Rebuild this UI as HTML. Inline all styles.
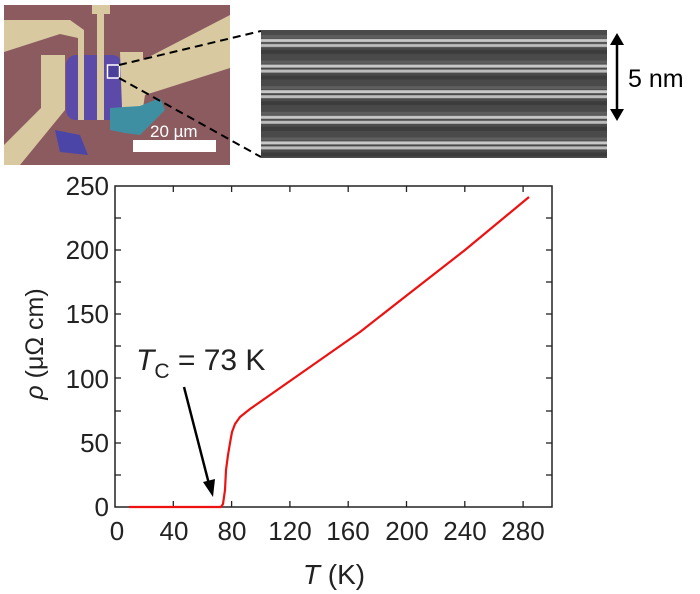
<!DOCTYPE html>
<html><head><meta charset="utf-8"><style>
html,body{margin:0;padding:0;background:#fff;}
svg{display:block;font-family:"Liberation Sans",Arial,sans-serif;}
</style></head><body>
<svg width="700" height="594" viewBox="0 0 700 594" xmlns="http://www.w3.org/2000/svg">
<defs>
<pattern id="tem" x="261" y="30" width="346" height="25.6" patternUnits="userSpaceOnUse">
<rect width="346" height="25.6" fill="#4a4a4a"/>
<rect y="9" width="346" height="3" fill="#c8c8c8"/>
<rect y="14" width="346" height="3" fill="#bdbdbd"/>
<rect y="5" width="346" height="3" fill="#5e5e5e"/>
<rect y="20" width="346" height="4" fill="#3c3c3c"/>
</pattern>
</defs>
<rect x="4" y="5" width="226" height="160" fill="#8c5b60"/>
<polygon points="4,20 70,20 84,30 84,120 78,120 78,38 60,34 4,52" fill="#d8c9a0"/>
<polygon points="92,5 110,5 110,14 104,14 104,120 97,120 97,14 92,14" fill="#d8c9a0"/>
<rect x="66" y="55" width="56" height="65" rx="10" fill="#5b4aa8"/>
<rect x="78" y="38" width="6" height="82" fill="#d8c9a0"/>
<rect x="97" y="14" width="7" height="106" fill="#d8c9a0"/>
<polygon points="41,55 65,55 65,110 20,165 4,165 4,145 41,108" fill="#d8c9a0"/>
<polygon points="120,52 143,52 143,60 230,15 230,68 145,95 143,108 122,108" fill="#d8c9a0"/>
<polygon points="110,108 140,106 160,98 165,110 150,125 140,135 125,133 110,130" fill="#3f8fa3"/>
<polygon points="55,130 80,135 88,155 60,152" fill="#4b45a8"/>
<rect x="107.5" y="65" width="12" height="13" fill="#4a3f9a" stroke="#fff" stroke-width="1.5"/>
<rect x="133" y="140" width="83" height="12" fill="#fff"/>
<text x="150" y="137" font-size="17" fill="#fff">20 µm</text>
<line x1="119" y1="65" x2="261" y2="31" stroke="#000" stroke-width="2" stroke-dasharray="8,5"/>
<line x1="119" y1="78" x2="261" y2="157" stroke="#000" stroke-width="2" stroke-dasharray="8,5"/>
<rect x="261" y="30" width="346" height="128" fill="url(#tem)"/>
<line x1="617" y1="40" x2="617" y2="114" stroke="#000" stroke-width="2.5"/>
<polygon points="610,45 617,33 624,45" fill="#000"/>
<polygon points="610,109 617,121 624,109" fill="#000"/>
<text x="628" y="87" font-size="25">5 nm</text>
<rect x="115" y="186" width="437" height="321" fill="none" stroke="#222" stroke-width="1.5"/>
<g stroke="#222" stroke-width="1.3">
<line x1="173.3" y1="507" x2="173.3" y2="501"/><line x1="231.6" y1="507" x2="231.6" y2="501"/>
<line x1="289.9" y1="507" x2="289.9" y2="501"/><line x1="348.2" y1="507" x2="348.2" y2="501"/>
<line x1="406.5" y1="507" x2="406.5" y2="501"/><line x1="464.8" y1="507" x2="464.8" y2="501"/>
<line x1="523.1" y1="507" x2="523.1" y2="501"/>
<line x1="173.3" y1="186" x2="173.3" y2="192"/><line x1="231.6" y1="186" x2="231.6" y2="192"/>
<line x1="289.9" y1="186" x2="289.9" y2="192"/><line x1="348.2" y1="186" x2="348.2" y2="192"/>
<line x1="406.5" y1="186" x2="406.5" y2="192"/><line x1="464.8" y1="186" x2="464.8" y2="192"/>
<line x1="523.1" y1="186" x2="523.1" y2="192"/>
<line x1="115" y1="475" x2="121" y2="475"/><line x1="115" y1="443" x2="121" y2="443"/>
<line x1="115" y1="411" x2="121" y2="411"/><line x1="115" y1="378" x2="121" y2="378"/>
<line x1="115" y1="346" x2="121" y2="346"/><line x1="115" y1="314" x2="121" y2="314"/>
<line x1="115" y1="282" x2="121" y2="282"/><line x1="115" y1="250" x2="121" y2="250"/>
<line x1="115" y1="218" x2="121" y2="218"/>
<line x1="552" y1="475" x2="546" y2="475"/><line x1="552" y1="443" x2="546" y2="443"/>
<line x1="552" y1="411" x2="546" y2="411"/><line x1="552" y1="378" x2="546" y2="378"/>
<line x1="552" y1="346" x2="546" y2="346"/><line x1="552" y1="314" x2="546" y2="314"/>
<line x1="552" y1="282" x2="546" y2="282"/><line x1="552" y1="250" x2="546" y2="250"/>
<line x1="552" y1="218" x2="546" y2="218"/>
</g>
<g font-size="26" fill="#222" text-anchor="end">
<text x="109" y="516">0</text><text x="109" y="452">50</text><text x="109" y="388">100</text>
<text x="109" y="323">150</text><text x="109" y="259">200</text><text x="109" y="195">250</text>
</g>
<g font-size="26" fill="#222" text-anchor="middle">
<text x="117" y="540">0</text><text x="174" y="540">40</text><text x="232" y="540">80</text>
<text x="290" y="540">120</text><text x="348" y="540">160</text><text x="407" y="540">200</text>
<text x="465" y="540">240</text><text x="523" y="540">280</text>
</g>
<text x="334" y="584" font-size="28" text-anchor="middle" fill="#222"><tspan font-style="italic">T</tspan> (K)</text>
<text transform="translate(43,344) rotate(-90)" font-size="25" text-anchor="middle" fill="#222"><tspan font-style="italic">ρ</tspan> (μΩ cm)</text>
<polyline fill="none" stroke="#ee1111" stroke-width="2.2" stroke-linejoin="round" points="129,507 221,507 223,504 225,490 226,470 228,455 230,443 232,432 235,424 240,417 250,409 260,402 290,381 330,353 360,332 406,296 465,250 529,197"/>
<text x="136" y="370" font-size="30" fill="#222"><tspan font-style="italic">T</tspan><tspan font-size="21" dy="8">C</tspan><tspan dy="-8"> = 73 K</tspan></text>
<line x1="184" y1="387" x2="209" y2="484" stroke="#000" stroke-width="2.5"/>
<polygon points="203,482 213,497 215,479" fill="#000"/>
</svg>
</body></html>
